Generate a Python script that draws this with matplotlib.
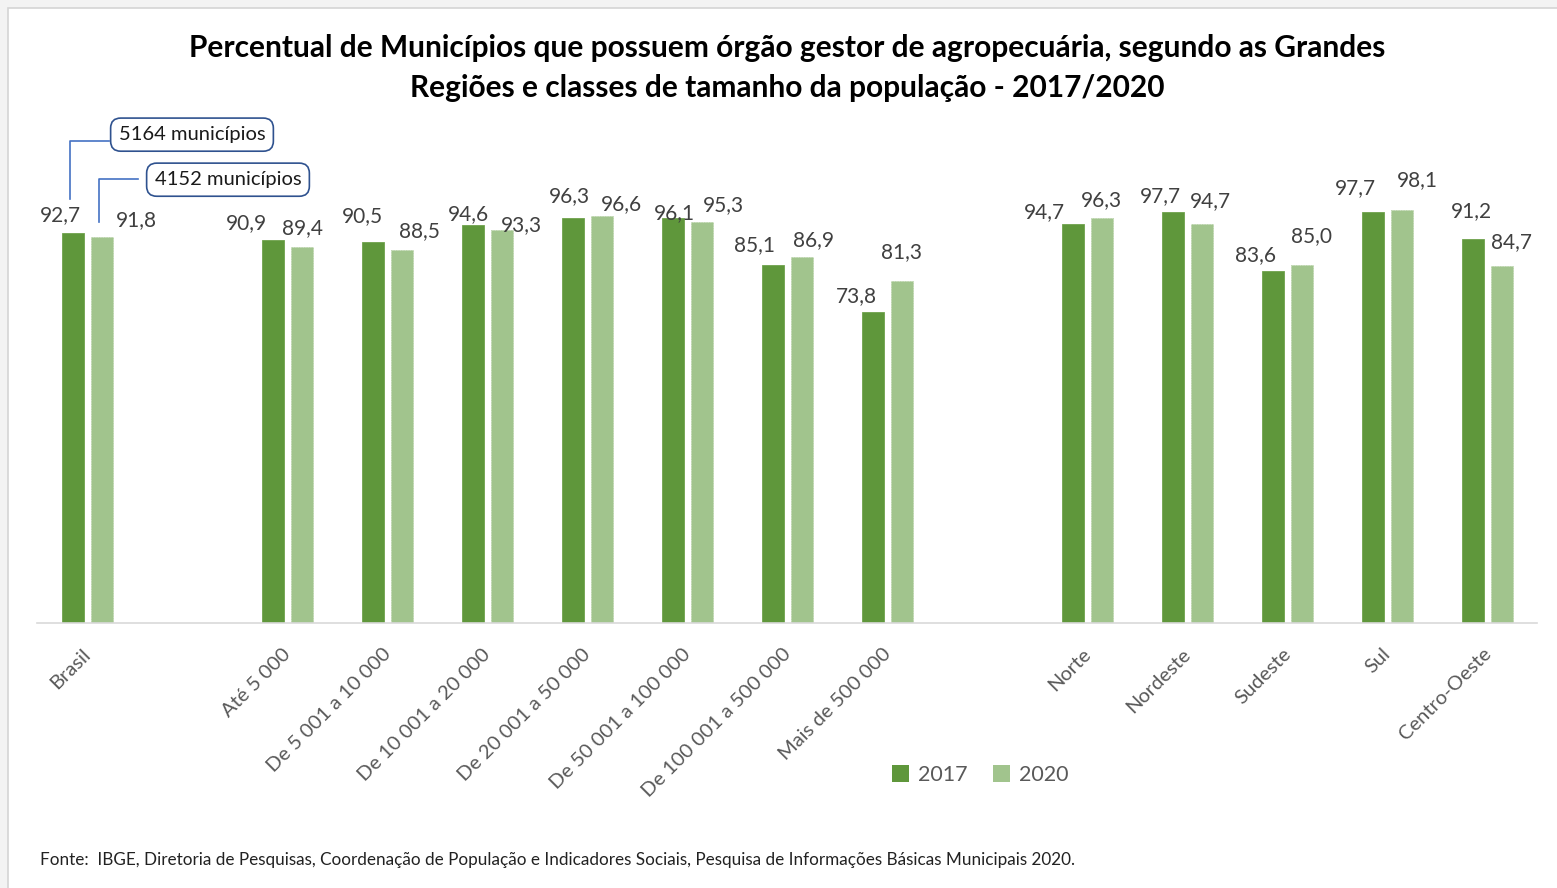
import numpy as np
import matplotlib
matplotlib.use("Agg")
import matplotlib.pyplot as plt
from matplotlib.patches import Rectangle
from matplotlib.transforms import ScaledTranslation

plt.rcParams["font.family"] = ["Lato", "DejaVu Sans"]

# categories ("" = empty spacer slot)
categories = ["Brasil", "",
              "Até 5 000", "De 5 001 a 10 000", "De 10 001 a 20 000",
              "De 20 001 a 50 000", "De 50 001 a 100 000", "De 100 001 a 500 000",
              "Mais de 500 000", "",
              "Norte", "Nordeste", "Sudeste", "Sul", "Centro-Oeste"]
v2017 = [92.7, None, 90.9, 90.5, 94.6, 96.3, 96.1, 85.1, 73.8, None,
         94.7, 97.7, 83.6, 97.7, 91.2]
v2020 = [91.8, None, 89.4, 88.5, 93.3, 96.6, 95.3, 86.9, 81.3, None,
         96.3, 94.7, 85.0, 98.1, 84.7]
series_names = ["2017", "2020"]

# manual nudges of the data labels (pixels: dx, height above bar)
nudge2017 = [(-12, 18), None, (-26, 17), (-10, 26), (-4, 11), (-3, 21), (2, 5), (-18, 20),
             (-16, 16), None, (-28, 12), (-12, 16), (-17, 16), (-17, 24), (-1, 28)]
nudge2020 = [(35, 16), None, (1, 19), (18, 19), (20, 5), (20, 12), (22, 17), (12, 17),
             (0, 29), None, (0, 17), (9, 23), (10, 29), (16, 30), (10, 24)]

title = ("Percentual de Municípios que possuem órgão gestor de agropecuária, segundo as Grandes\n"
         "Regiões e classes de tamanho da população - 2017/2020")
source = ("Fonte:  IBGE, Diretoria de Pesquisas, Coordenação de População e Indicadores Sociais, "
          "Pesquisa de Informações Básicas Municipais 2020.")

c17 = "#5f973b"
c20 = "#a1c48d"
W, H = 1557, 888

fig = plt.figure(figsize=(W / 100, H / 100), dpi=100, facecolor="#f3f3f3")
# white chart area with a thin grey frame (top/left only visible)
fig.patches.append(Rectangle((8 / W, -0.01), 1.02, 1 - 8 / H + 0.01, transform=fig.transFigure,
                             facecolor="white", edgecolor="#d4d4d4", linewidth=1.2, zorder=-5))

ax = fig.add_axes([37 / W, 265 / H, 1500 / W, 421 / H])
ax.set_facecolor("none")

x = np.arange(len(categories))
bw = 0.22
off = 0.145
for i, (a, b) in enumerate(zip(v2017, v2020)):
    if a is None:
        continue
    ax.bar(x[i] - off, a, bw, color=c17, edgecolor="#6fa24c", linewidth=0.6, zorder=2)
    ax.bar(x[i] + off, b, bw, color=c20, edgecolor="#b3cfa2", linewidth=0.6,
           linestyle=(0, (1, 1)), zorder=2)

ax.set_xlim(-0.5, len(categories) - 0.5)
ax.set_ylim(0, 100)
for s in ["top", "right", "left"]:
    ax.spines[s].set_visible(False)
ax.spines["bottom"].set_color("#d9d9d9")
ax.spines["bottom"].set_linewidth(1.2)
ax.set_yticks([])
ax.set_xticks(x)
ax.set_xticklabels(categories, rotation=45, ha="right", va="top", fontsize=14.5, color="#595959")
ax.tick_params(axis="x", length=0, pad=16)
for lab in ax.get_xticklabels():
    lab.set_transform(lab.get_transform() + ScaledTranslation(7 / 100, 0, fig.dpi_scale_trans))

# data labels
lbl = dict(fontsize=15, color="#404040", ha="center", va="center", zorder=3)
for i in range(len(categories)):
    for vals, nud, sgn in ((v2017, nudge2017, -1), (v2020, nudge2020, 1)):
        if vals[i] is None:
            continue
        dx, dy = nud[i]
        ax.annotate(f"{vals[i]:.1f}".replace(".", ","), (x[i] + sgn * off, vals[i]),
                    xytext=(dx * 0.72, dy * 0.72), textcoords="offset points", **lbl)

# callouts for the number of municipalities
line_c = "#4472c4"
box = dict(boxstyle="round,pad=0.4,rounding_size=0.5", facecolor="white",
           edgecolor="#2f528f", linewidth=1.2)
ax.plot([-0.17, -0.17, 0.22], [100.7, 114.5, 114.5], color=line_c, lw=1.2, clip_on=False)
ax.text(1.05, 116.0, "5164 municípios", fontsize=14.5, color="#1a1a1a", ha="center",
        va="center", bbox=box, clip_on=False)
ax.plot([0.12, 0.12, 0.51], [95.2, 105.5, 105.5], color=line_c, lw=1.2, clip_on=False)
ax.text(1.41, 105.3, "4152 municípios", fontsize=14.5, color="#1a1a1a", ha="center",
        va="center", bbox=box, clip_on=False)

fig.text(787 / W, 1 - 68 / H, title, ha="center", va="center", fontsize=21.5,
         fontweight="bold", color="black", linespacing=1.5)

handles = [Rectangle((0, 0), 1, 1, facecolor=c17), Rectangle((0, 0), 1, 1, facecolor=c20)]
fig.legend(handles, series_names, loc="center", bbox_to_anchor=(980 / W, 1 - 775 / H),
           ncol=2, frameon=False, fontsize=15.5, handlelength=0.8, handleheight=0.8,
           handletextpad=0.4, columnspacing=1.2, labelcolor="#595959")

fig.text(40 / W, 1 - 860 / H, source, ha="left", va="center", fontsize=12.3, color="#222222")

fig.savefig("out.png", dpi=100, facecolor=fig.get_facecolor())
